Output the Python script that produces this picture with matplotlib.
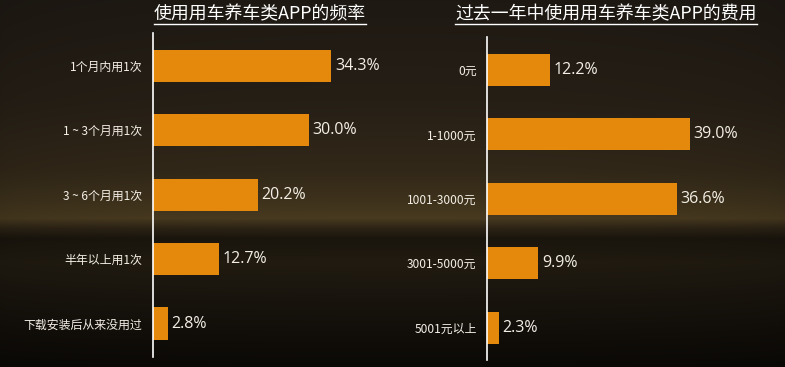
import numpy as np
import matplotlib.pyplot as plt
from matplotlib.lines import Line2D

plt.rcParams['font.family'] = ['Noto Sans CJK SC', 'DejaVu Sans']

# data
freq_title = '使用用车养车类APP的频率'
freq_labels = ['1个月内用1次', '1 ~ 3个月用1次', '3 ~ 6个月用1次', '半年以上用1次', '下载安装后从来没用过']
freq_values = [34.3, 30.0, 20.2, 12.7, 2.8]

cost_title = '过去一年中使用用车养车类APP的费用'
cost_labels = ['0元', '1-1000元', '1001-3000元', '3001-5000元', '5001元以上']
cost_values = [12.2, 39.0, 36.6, 9.9, 2.3]

W, H = 785, 367
BAR = '#E5890C'
TXT = '#F4EFE6'

fig = plt.figure(figsize=(W / 100, H / 100), dpi=100)

# background gradient (dark brown with a golden band)
stops_y = [0, 100, 170, 200, 218, 228, 238, 262, 310, 367]
stops_c = [(30, 25, 19), (38, 31, 22), (50, 40, 25), (62, 50, 28), (72, 58, 32),
           (44, 35, 21), (26, 21, 13), (33, 27, 17), (22, 18, 12), (11, 9, 6)]
ys = np.arange(H)
grad = np.stack([np.interp(ys, stops_y, [c[i] for c in stops_c]) for i in range(3)], axis=-1) / 255
xs = np.linspace(0, 1, W)
shade = 0.88 + 0.12 * np.sin(np.pi * xs) ** 0.5
img = grad[:, None, :] * shade[None, :, None]
bg = fig.add_axes([0, 0, 1, 1], zorder=-1)
bg.imshow(np.clip(img, 0, 1), aspect='auto', extent=[0, 1, 0, 1])
bg.set_axis_off()


def panel(rect, labels, values, xmax, lims):
    ax = fig.add_axes(rect)
    ax.patch.set_alpha(0)
    y = np.arange(len(labels))
    ax.barh(y, values, height=0.5, color=BAR)
    for yi, v in zip(y, values):
        ax.annotate(f'{v:.1f}%', (v, yi), xytext=(2.5, 0), textcoords='offset points',
                    va='center', ha='left', color=TXT, fontsize=11.5,
                    family=['Open Sans', 'DejaVu Sans'])
    ax.set_xlim(0, xmax)
    ax.set_ylim(*lims)
    ax.set_yticks(y)
    ax.set_yticklabels(labels, color=TXT, fontsize=8.6)
    ax.tick_params(axis='y', length=0, pad=7.5)
    ax.set_xticks([])
    for s in ['top', 'right', 'bottom']:
        ax.spines[s].set_visible(False)
    ax.spines['left'].set_color('#FFFFFF')
    ax.spines['left'].set_linewidth(1.2)
    return ax


panel([153 / W, 10 / H, 247 / W, 324 / H], freq_labels, freq_values, 247 / 5.2, (4.52, -0.51))
panel([487 / W, 7 / H, 298 / W, 323 / H], cost_labels, cost_values, 298 / 5.2, (4.5, -0.51))

titles = []
for t, cx in [(freq_title, 260), (cost_title, 606)]:
    titles.append(fig.text(cx / W, 1 - 14 / H, t, ha='center', va='center',
                           color='#FFFFFF', fontsize=12.9))

fig.canvas.draw()
r = fig.canvas.get_renderer()
for t in titles:
    bb = t.get_window_extent(r)
    yline = 1 - 23.5 / H
    fig.add_artist(Line2D([bb.x0 / W, bb.x1 / W], [yline, yline], color='#FFFFFF', lw=1.0))

fig.savefig('out.png', dpi=100)
